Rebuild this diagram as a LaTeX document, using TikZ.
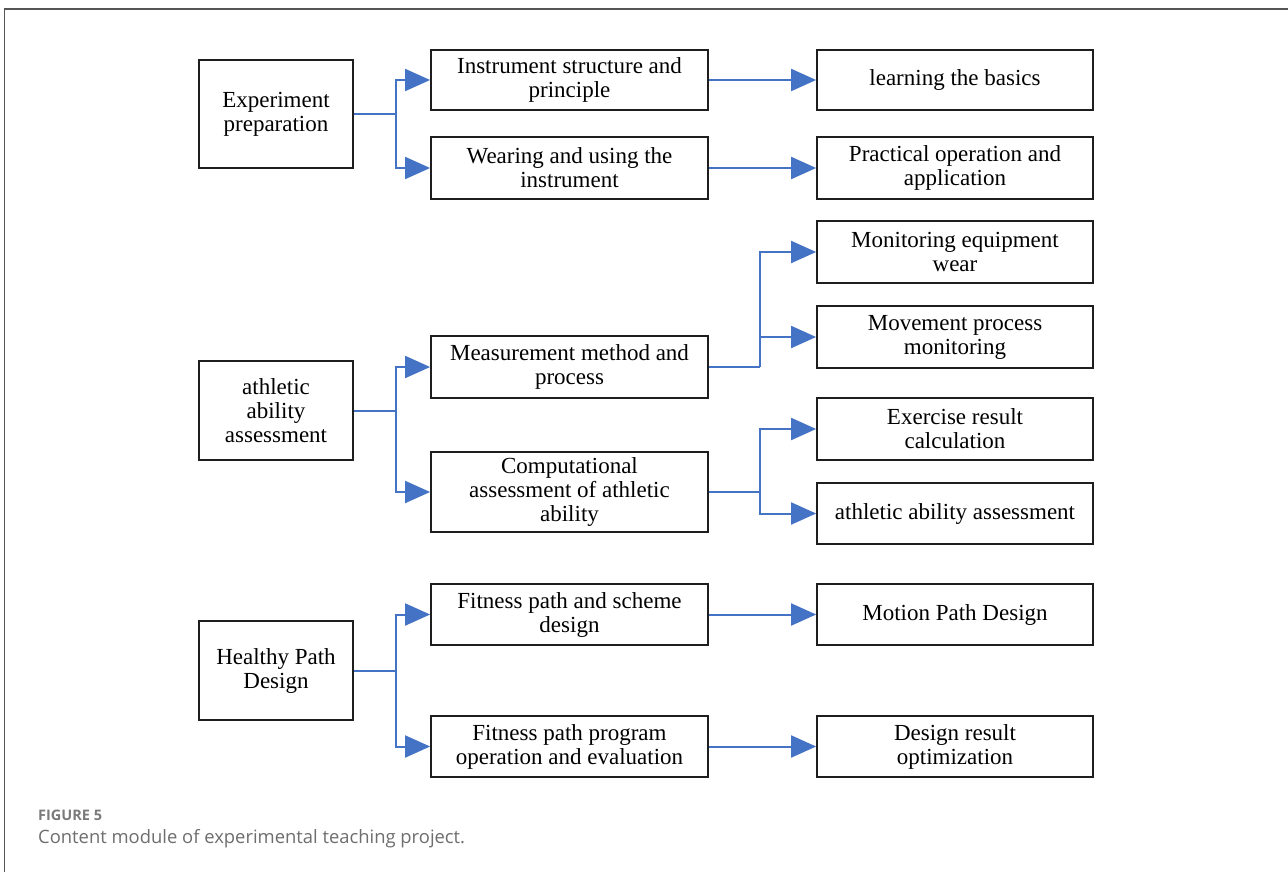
\documentclass[tikz,border=0pt]{standalone}
\usepackage{fontspec}
\setmainfont{Liberation Serif}
\newfontfamily\capfont{Open Sans}
\usetikzlibrary{arrows.meta}
\definecolor{linkblue}{HTML}{4472C4}
\definecolor{boxline}{HTML}{1E1E1E}
\definecolor{capgray}{HTML}{6E6E6E}
\definecolor{figgray}{HTML}{7A7A7A}
\definecolor{framegray}{HTML}{555555}
\tikzset{
  box/.style={draw=boxline, line width=1.8pt, align=center, inner sep=0pt,
    minimum width=277pt, text=black, font=\fontsize{23}{24}\selectfont},
  lbox/.style={box, minimum width=154pt},
  conn/.style={draw=linkblue, line width=2pt, line join=miter},
  arr/.style={conn, -{Triangle[length=25pt,width=22pt]}, linkblue}
}
\begin{document}
\begin{tikzpicture}[x=1pt,y=-1pt]
\useasboundingbox (0,0) rectangle (1288,872);
\fill[white] (0,0) rectangle (1288,872);
\draw[framegray, line width=1.4pt] (4.5,872) -- (4.5,9) -- (1288,9);

% left column
\node[lbox, minimum height=108pt] (ep) at (276,114) {Experiment\\preparation};
\node[lbox, minimum height=99pt] (aa) at (276,410.5) {athletic\\ability\\assessment};
\node[lbox, minimum height=99pt] (hp) at (276,670.5) {Healthy Path\\Design};

% middle column
\node[box, minimum height=60pt] (is) at (569.5,80) {Instrument structure and\\principle};
\node[box, minimum height=62pt] (wu) at (569.5,168) {Wearing and using the\\instrument};
\node[box, minimum height=62pt] (mm) at (569.5,367) {Measurement method and\\process};
\node[box, minimum height=80pt] (ca) at (569.5,492) {Computational\\assessment of athletic\\ability};
\node[box, minimum height=61pt] (fp) at (569.5,614.5) {Fitness path and scheme\\design};
\node[box, minimum height=61pt] (fo) at (569.5,746.5) {Fitness path program\\operation and evaluation};

% right column
\node[box, minimum width=276pt, minimum height=60pt] (lb) at (955,80) {learning the basics};
\node[box, minimum width=276pt, minimum height=62pt] (po) at (955,168) {Practical operation and\\application};
\node[box, minimum width=276pt, minimum height=62pt] (me) at (955,252) {Monitoring equipment\\wear};
\node[box, minimum width=276pt, minimum height=62pt] (mp) at (955,337) {Movement process\\monitoring};
\node[box, minimum width=276pt, minimum height=62pt] (er) at (955,429) {Exercise result\\calculation};
\node[box, minimum width=276pt, minimum height=61pt] (ar) at (955,513.5) {athletic ability assessment};
\node[box, minimum width=276pt, minimum height=61pt] (md) at (955,614.5) {Motion Path Design};
\node[box, minimum width=276pt, minimum height=61pt] (dr) at (955,746.5) {Design result\\optimization};

% junctions
\coordinate (j1) at (396,114);
\coordinate (j2) at (396,410.5);
\coordinate (j3) at (396,670.5);
\coordinate (k1) at (760,367);
\coordinate (k2) at (760,492);

% connectors
\draw[conn] (ep.east) -- (j1);
\draw[arr] (j1) |- (is.west);
\draw[arr] (j1) |- (wu.west);
\draw[conn] (aa.east) -- (j2);
\draw[arr] (j2) |- (mm.west);
\draw[arr] (j2) |- (ca.west);
\draw[conn] (hp.east) -- (j3);
\draw[arr] (j3) |- (fp.west);
\draw[arr] (j3) |- (fo.west);

\draw[arr] (is.east) -- (lb.west);
\draw[arr] (wu.east) -- (po.west);
\draw[conn] (mm.east) -- (k1);
\draw[arr] (k1) |- (me.west);
\draw[arr] (k1) |- (mp.west);
\draw[conn] (ca.east) -- (k2);
\draw[arr] (k2) |- (er.west);
\draw[arr] (k2) |- (ar.west);
\draw[arr] (fp.east) -- (md.west);
\draw[arr] (fo.east) -- (dr.west);

% caption
\node[anchor=base west, inner sep=0pt, text=figgray, font=\capfont\bfseries\fontsize{14.5}{16}\selectfont] (cap1) at (38,820) {FIGURE 5};
\node[anchor=base west, inner sep=0pt, text=capgray, font=\capfont\fontsize{18.4}{20}\selectfont] (cap2) at (38,843) {Content module of experimental teaching project.};
\end{tikzpicture}
\end{document}
